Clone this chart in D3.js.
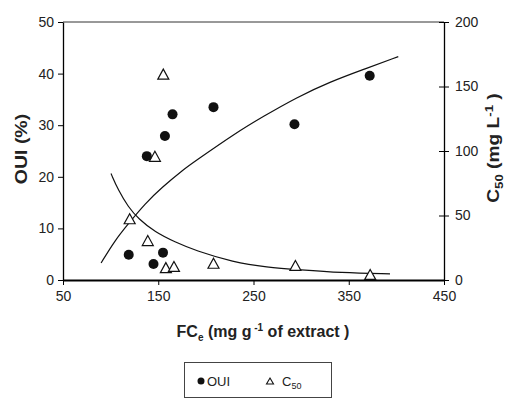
<!DOCTYPE html>
<html>
<head>
<meta charset="utf-8">
<script src="https://cdn.jsdelivr.net/npm/d3@7"></script>
<style>
  html, body { margin: 0; padding: 0; background: #fff; }
  svg { display: block; }
  text { font-family: "Liberation Sans", Arial, sans-serif; fill: #222; }
</style>
</head>
<body>
<svg id="chart" width="506" height="401"></svg>
<script>
// Observed points: OUI (%) vs FCe
const fceOui = [119, 138, 145, 155, 157, 165, 208, 293, 372];
const oui    = [4.9, 24.0, 3.1, 5.3, 27.9, 32.1, 33.5, 30.2, 39.6];

// Observed points: C50 (mg L-1) vs FCe
const fceC50 = [120, 139, 146.5, 155.3, 158, 166.5, 208, 294, 372.5];
const c50    = [47.5, 30.6, 95.9, 159.6, 9.6, 10.5, 13.0, 11.3, 4.3];

// Fitted trend for OUI (left axis)
const ouiFitX = [90, 104.6, 118.6, 136.1, 153.6, 176.3, 188.6, 230.6, 260.3, 295.4, 330.3, 365.3, 402];
const ouiFitY = [3.3, 7.7, 10.9, 14.8, 17.9, 21.4, 23.0, 28.4, 31.7, 35.4, 38.4, 40.8, 43.3];

// Fitted trend for C50 (right axis)
const c50FitX = [100.4, 108.1, 118.6, 129.1, 146.6, 167.6, 188.6, 228.8, 263.9, 298.8, 340.8, 393.3];
const c50FitY = [82.5, 69.5, 56.5, 47.5, 37.1, 29.4, 22.9, 13.8, 9.9, 7.9, 5.6, 4.8];

// Axis ticks
const xTicks = [50, 150, 250, 350, 450];
const leftTicks = [0, 10, 20, 30, 40, 50];
const rightTicks = [0, 50, 100, 150, 200];

const svg = d3.select("#chart");
const L = 63, R = 444, T = 22, B = 280;

const x = d3.scaleLinear().domain([50, 450]).range([L, R]);
const yL = d3.scaleLinear().domain([0, 50]).range([B, T]);
const yR = d3.scaleLinear().domain([0, 200]).range([B, T]);

// top frame line
svg.append("line").attr("x1", L).attr("x2", R).attr("y1", T).attr("y2", T)
  .attr("stroke", "#333").attr("stroke-width", 1);

// left axis
const gL = svg.append("g").attr("transform", `translate(${L},0)`)
  .call(d3.axisLeft(yL).tickValues(leftTicks).tickSize(5).tickSizeOuter(0).tickPadding(4));
gL.select(".domain").attr("stroke", "#000").attr("stroke-width", 1.3);

// right axis, ticks crossing the line
const gR = svg.append("g").attr("transform", `translate(${R},0)`)
  .call(d3.axisRight(yR).tickValues(rightTicks).tickSize(5).tickSizeOuter(0).tickPadding(6));
gR.selectAll(".tick line").attr("x1", -5);
gR.select(".domain").attr("stroke", "#000").attr("stroke-width", 1.3);

// bottom axis
const gB = svg.append("g").attr("transform", `translate(0,${B})`)
  .call(d3.axisBottom(x).tickValues(xTicks).tickSize(5).tickSizeOuter(0).tickPadding(6));
gB.select(".domain").attr("stroke", "#000").attr("stroke-width", 2.2);

svg.selectAll(".tick text").attr("font-size", 14)
  .attr("font-family", '"Liberation Sans", Arial, sans-serif').attr("fill", "#222");
svg.selectAll(".tick line").attr("stroke", "#000");

// fitted curves
const lineL = d3.line().x(d => x(d[0])).y(d => yL(d[1])).curve(d3.curveBasis);
const lineR = d3.line().x(d => x(d[0])).y(d => yR(d[1])).curve(d3.curveBasis);

svg.append("path").datum(d3.zip(ouiFitX, ouiFitY)).attr("d", lineL)
  .attr("fill", "none").attr("stroke", "#111").attr("stroke-width", 1.2);
svg.append("path").datum(d3.zip(c50FitX, c50FitY)).attr("d", lineR)
  .attr("fill", "none").attr("stroke", "#111").attr("stroke-width", 1.2);

// triangle marker, centred on its bounding box
const tri = (w, h) => `M0,${-h/2}L${w/2},${h/2}L${-w/2},${h/2}Z`;

svg.append("g").selectAll("path").data(d3.zip(fceC50, c50)).join("path")
  .attr("transform", d => `translate(${x(d[0])},${yR(d[1])})`)
  .attr("d", tri(11, 10))
  .attr("fill", "#fff").attr("stroke", "#111").attr("stroke-width", 1.2);

svg.append("g").selectAll("circle").data(d3.zip(fceOui, oui)).join("circle")
  .attr("cx", d => x(d[0])).attr("cy", d => yL(d[1])).attr("r", 5)
  .attr("fill", "#111");

// axis titles (vertical ones are stretched along the text direction)
svg.append("text").attr("transform", `translate(27,149) rotate(-90) scale(1.22,1)`)
  .attr("text-anchor", "middle").attr("font-size", 16).attr("font-weight", "bold")
  .text("OUI (%)");

const rt = svg.append("text").attr("transform", `translate(499,148) rotate(-90) scale(1.2,1)`)
  .attr("text-anchor", "middle").attr("font-size", 16).attr("font-weight", "bold");
rt.append("tspan").text("C");
rt.append("tspan").attr("font-size", 11).attr("dy", 4).text("50");
rt.append("tspan").attr("dy", -4).text(" (mg L");
rt.append("tspan").attr("font-size", 11).attr("dy", -6).text("-1");
rt.append("tspan").attr("dy", 6).text(" )");

const xt = svg.append("text").attr("x", 263).attr("y", 337)
  .attr("text-anchor", "middle").attr("font-size", 16).attr("font-weight", "bold");
xt.append("tspan").text("FC");
xt.append("tspan").attr("font-size", 10).attr("dy", 4).text("e");
xt.append("tspan").attr("dy", -4).text(" (mg g");
xt.append("tspan").attr("font-size", 10).attr("dy", -6).text(" -1");
xt.append("tspan").attr("dy", 6).text(" of extract )");

// legend
const lg = svg.append("g");
lg.append("rect").attr("x", 184.5).attr("y", 362.5).attr("width", 147).attr("height", 35)
  .attr("fill", "#fff").attr("stroke", "#444").attr("stroke-width", 1);
lg.append("circle").attr("cx", 201).attr("cy", 381).attr("r", 3.5).attr("fill", "#111");
lg.append("text").attr("x", 207).attr("y", 386).attr("font-size", 13).text("OUI");
lg.append("path").attr("transform", "translate(270,381)").attr("d", tri(7, 6))
  .attr("fill", "#fff").attr("stroke", "#111").attr("stroke-width", 1.1);
const lc = lg.append("text").attr("x", 282).attr("y", 386).attr("font-size", 13);
lc.append("tspan").text("C");
lc.append("tspan").attr("font-size", 9).attr("dy", 3).text("50");
</script>
</body>
</html>
